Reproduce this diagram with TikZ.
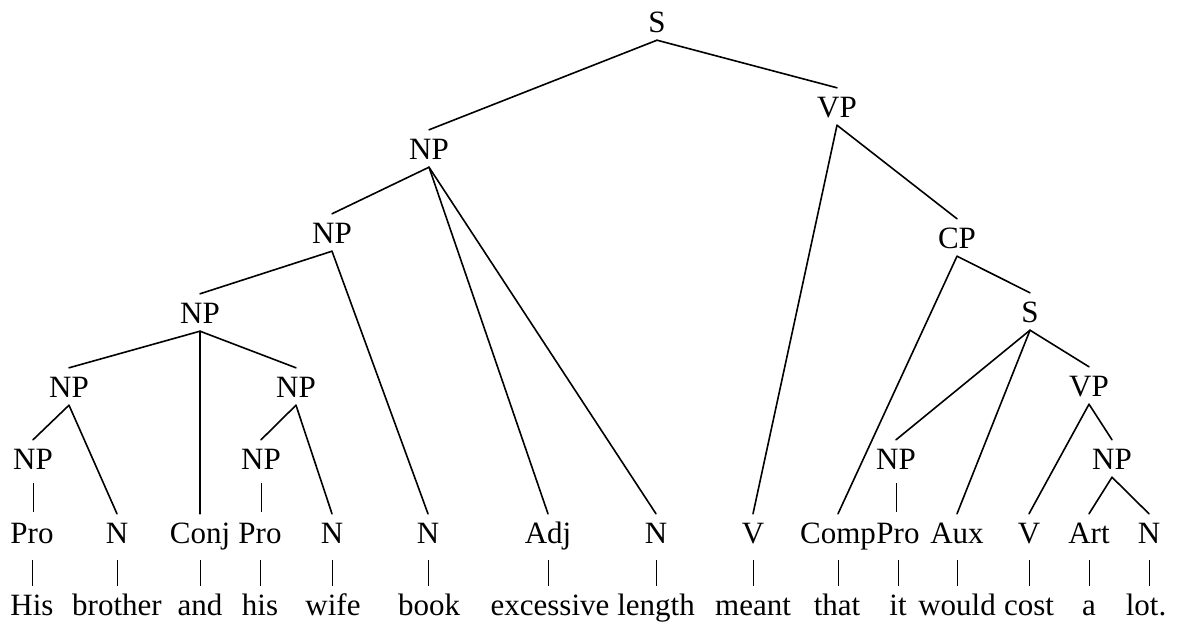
\documentclass[tikz,border=0pt]{standalone}
\usepackage{fontspec}
\setmainfont{Liberation Serif}
\begin{document}
\begin{tikzpicture}[x=1pt,y=-1pt,
  lab/.style={anchor=base, font=\fontsize{31}{36}\selectfont, text height=21pt, text depth=0pt, inner xsep=0pt, inner ysep=8pt},
  edge/.style={line width=1.6pt, line cap=round},
  catbar/.style={line width=0.9pt, shorten <=9pt},
  npbar/.style={line width=0.9pt, shorten <=6pt, shorten >=2pt}]
\useasboundingbox (0,0) rectangle (1178,624);
% phrase nodes
\node[lab] (S) at (657,32) {S};
\node[lab] (NP1) at (429,159) {NP};
\node[lab] (VP1) at (837,117) {VP};
\node[lab] (NP2) at (332,243) {NP};
\node[lab] (NP3) at (200,323) {NP};
\node[lab] (NP4a) at (69,397) {NP};
\node[lab] (NP4b) at (296,397) {NP};
\node[lab] (NP5a) at (33,469) {NP};
\node[lab] (NP5b) at (261,469) {NP};
\node[lab] (CP) at (957,248) {CP};
\node[lab] (S2) at (1030,322) {S};
\node[lab] (VP2) at (1089,396) {VP};
\node[lab] (NP6) at (896,469) {NP};
\node[lab] (NP7) at (1112,469) {NP};
% categories
\node[lab] (pro1) at (32,543) {Pro};
\node[lab] (n1) at (117,543) {N};
\node[lab] (conj) at (200,543) {Conj};
\node[lab] (pro2) at (260,543) {Pro};
\node[lab] (n2) at (332,543) {N};
\node[lab] (n3) at (428,543) {N};
\node[lab] (adj) at (548,543) {Adj};
\node[lab] (n4) at (656,543) {N};
\node[lab] (v1) at (753,543) {V};
\node[lab] (comp) at (838,543) {Comp};
\node[lab] (pro3) at (898,543) {Pro};
\node[lab] (aux) at (957,543) {Aux};
\node[lab] (v2) at (1029,543) {V};
\node[lab] (art) at (1089,543) {Art};
\node[lab] (n5) at (1149,543) {N};
% words
\node[lab] (w1) at (32,615) {His};
\node[lab] (w2) at (117,615) {brother};
\node[lab] (w3) at (200,615) {and};
\node[lab] (w4) at (260,615) {his};
\node[lab] (w5) at (333,615) {wife};
\node[lab] (w6) at (429,615) {book};
\node[lab] (w7) at (550,615) {excessive};
\node[lab] (w8) at (656,615) {length};
\node[lab] (w9) at (753,615) {meant};
\node[lab] (w10) at (837,615) {that};
\node[lab] (w11) at (898,615) {it};
\node[lab] (w12) at (957,615) {would};
\node[lab] (w13) at (1029,615) {cost};
\node[lab] (w14) at (1089,615) {a};
\node[lab] (w15) at (1146,615) {lot.};
% branches
\draw[edge] (S.south) -- (NP1.north);
\draw[edge] (S.south) -- (VP1.north);
\draw[edge] (NP1.south) -- (NP2.north);
\draw[edge] (NP1.south) -- (adj.north);
\draw[edge] (NP1.south) -- (n4.north);
\draw[edge] (NP2.south) -- (NP3.north);
\draw[edge] (NP2.south) -- (n3.north);
\draw[edge] (NP3.south) -- (NP4a.north);
\draw[edge] (NP3.south) -- (conj.north);
\draw[edge] (NP3.south) -- (NP4b.north);
\draw[edge] (NP4a.south) -- (NP5a.north);
\draw[edge] (NP4a.south) -- (n1.north);
\draw[edge] (NP4b.south) -- (NP5b.north);
\draw[edge] (NP4b.south) -- (n2.north);
\draw[edge] (VP1.south) -- (v1.north);
\draw[edge] (VP1.south) -- (CP.north);
\draw[edge] (CP.south) -- (comp.north);
\draw[edge] (CP.south) -- (S2.north);
\draw[edge] (S2.south) -- (NP6.north);
\draw[edge] (S2.south) -- (aux.north);
\draw[edge] (S2.south) -- (VP2.north);
\draw[edge] (VP2.south) -- (v2.north);
\draw[edge] (VP2.south) -- (NP7.north);
\draw[edge] (NP7.south) -- (art.north);
\draw[edge] (NP7.south) -- (n5.north);
% unary bars
\draw[npbar] (NP5a.south) -- (NP5a.south |- pro1.north);
\draw[npbar] (NP5b.south) -- (NP5b.south |- pro2.north);
\draw[npbar] (NP6.south) -- (NP6.south |- pro3.north);
\foreach \c/\w in {pro1/w1,n1/w2,conj/w3,pro2/w4,n2/w5,n3/w6,adj/w7,n4/w8,v1/w9,comp/w10,pro3/w11,aux/w12,v2/w13,art/w14,n5/w15}
  \draw[catbar] (\c.south) -- (\c.south |- \w.north);
\end{tikzpicture}
\end{document}
